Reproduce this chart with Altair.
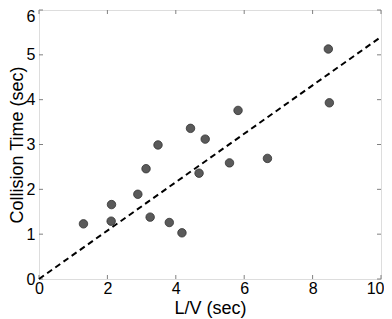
import altair as alt
import pandas as pd

lv = [1.30, 2.12, 2.11, 2.89, 3.13, 3.25, 3.48, 3.81, 4.18, 4.43, 4.68, 4.86, 5.57, 5.82, 6.68, 8.46, 8.49]
ct = [1.23, 1.66, 1.29, 1.89, 2.46, 1.38, 2.99, 1.26, 1.03, 3.36, 2.36, 3.12, 2.59, 3.76, 2.69, 5.13, 3.93]
fit_x = [0, 10]
fit_y = [0, 5.4]
x_ticks = [0, 2, 4, 6, 8, 10]
y_ticks = [0, 1, 2, 3, 4, 5, 6]

W, H = 342, 269
FONT = "Liberation Sans"
GRAY = "#808080"

pts = pd.DataFrame({"x": lv, "y": ct})
fit = pd.DataFrame({"x": fit_x, "y": fit_y})
xt = pd.DataFrame({"v": x_ticks})
yt = pd.DataFrame({"v": y_ticks})

xs = alt.Scale(domain=[0, 10], nice=False, zero=False)
ys = alt.Scale(domain=[0, 6], nice=False, zero=False)

xaxis = alt.Axis(values=x_ticks, title="L/V (sec)", ticks=False, domain=False, grid=False,
                 labelFont=FONT, labelFontSize=16, labelColor="black", labelPadding=1,
                 labelAlign={"condition": {"test": "datum.value == 10", "value": "right"}, "value": "center"},
                 labelOffset={"condition": {"test": "datum.value == 10", "value": 3}, "value": 0},
                 titleFont=FONT, titleFontSize=18, titleFontWeight="normal", titleColor="black",
                 titleX=W / 2, titleY=34, titleBaseline="alphabetic", titleAlign="center",
                 labelFlush=False)
yaxis = alt.Axis(values=y_ticks, title="Collision Time (sec)", ticks=False, domain=False, grid=False,
                 labelFont=FONT, labelFontSize=16, labelColor="black", labelPadding=4,
                 labelOffset={"condition": {"test": "datum.value == 6", "value": 6}, "value": 0},
                 titleFont=FONT, titleFontSize=18, titleFontWeight="normal", titleColor="black",
                 titleX=-17, titleY=H / 2, titleBaseline="alphabetic", titleAlign="center", titleAngle=270,
                 labelFlush=False)

points = alt.Chart(pts).mark_circle(size=72, fill="#5a5a5a", stroke="#333333", strokeWidth=0.8, opacity=1).encode(
    x=alt.X("x:Q", scale=xs, axis=xaxis),
    y=alt.Y("y:Q", scale=ys, axis=yaxis),
)

line = alt.Chart(fit).mark_line(color="black", strokeWidth=2, strokeDash=[6, 4]).encode(
    x=alt.X("x:Q", scale=xs),
    y=alt.Y("y:Q", scale=ys),
)

xt_bot = alt.Chart(xt).mark_rule(color=GRAY, strokeWidth=1).encode(
    x=alt.X("v:Q", scale=xs), y=alt.value(H), y2=alt.value(H - 4))
xt_top = alt.Chart(xt).mark_rule(color=GRAY, strokeWidth=1).encode(
    x=alt.X("v:Q", scale=xs), y=alt.value(0), y2=alt.value(4))
yt_left = alt.Chart(yt).mark_rule(color=GRAY, strokeWidth=1).encode(
    y=alt.Y("v:Q", scale=ys), x=alt.value(0), x2=alt.value(4))
yt_right = alt.Chart(yt).mark_rule(color=GRAY, strokeWidth=1).encode(
    y=alt.Y("v:Q", scale=ys), x=alt.value(W), x2=alt.value(W - 4))

chart = alt.layer(xt_bot, xt_top, yt_left, yt_right, line, points).properties(
    width=W, height=H,
    autosize=alt.AutoSizeParams(type="none"),
    padding={"left": 31, "top": 2, "right": 3, "bottom": 40},
).configure_view(stroke=GRAY, strokeWidth=1).configure(background="white")

chart.save("out.html", embed_options={"renderer": "svg", "actions": False})
